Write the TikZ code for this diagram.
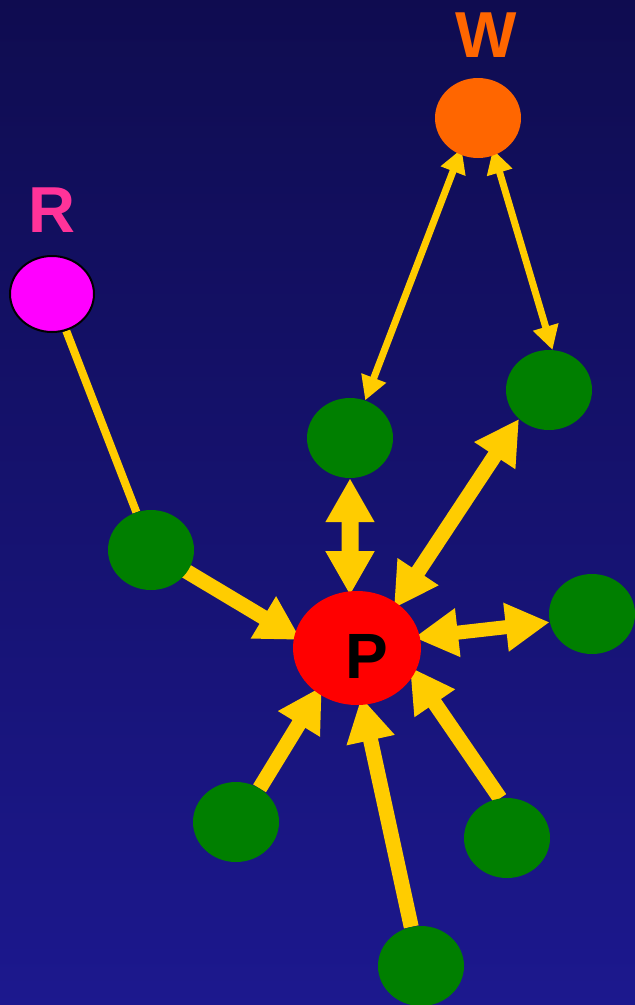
\documentclass[tikz,border=0pt]{standalone}
\usepackage{fontspec}
\setmainfont{Liberation Sans}
\usetikzlibrary{arrows.meta,shapes.geometric}
\definecolor{bgtop}{HTML}{0F0C50}
\definecolor{bgbot}{HTML}{1C188E}
\definecolor{arrowyellow}{HTML}{FFCC00}
\definecolor{nodegreen}{HTML}{007F00}
\definecolor{worange}{HTML}{FF6600}
\definecolor{rpink}{HTML}{FF3399}
\definecolor{rmagenta}{HTML}{FF00FF}
\pgfdeclarelayer{back}
\pgfdeclarelayer{conn}
\pgfsetlayers{back,conn,main}
\tikzset{
  bigtip/.tip={Triangle[width=46pt,length=44pt]},
  smalltip/.tip={Triangle[width=25pt,length=24pt]},
  blob/.style={ellipse, draw=none, minimum width=86pt, minimum height=80pt, inner sep=0pt, fill=nodegreen},
  bigline/.style={draw=arrowyellow, line width=15pt},
  thinline/.style={draw=arrowyellow, line width=7pt},
  lbl/.style={font=\bfseries\fontsize{65}{65}\selectfont, anchor=base, inner sep=0pt}
}
\begin{document}
\begin{tikzpicture}[x=1pt,y=-1pt]
\useasboundingbox (0,0) rectangle (635,1005);
\begin{pgfonlayer}{back}
\shade[top color=bgtop, bottom color=bgbot] (0,0) rectangle (635,1005);
\end{pgfonlayer}
% nodes
\node[ellipse, fill=worange, minimum width=86pt, minimum height=80pt, inner sep=0pt] (W) at (478,118) {};
\node[lbl, text=worange] (Wl) at (486,57) {W};
\node[ellipse, fill=rmagenta, draw=black, line width=2pt, minimum width=84pt, minimum height=76pt, inner sep=0pt] (R) at (52,294) {};
\node[lbl, text=rpink] (Rl) at (52,232) {R};
\node[blob] (G1) at (350,438) {};
\node[blob] (G2) at (549,390) {};
\node[blob] (G3) at (151,550) {};
\node[blob] (G4) at (592,614) {};
\node[blob] (G5) at (236,822) {};
\node[blob] (G6) at (507,838) {};
\node[blob] (G7) at (421,966) {};
\node[ellipse, fill=red, minimum width=128pt, minimum height=114pt, inner sep=0pt] (P) at (357,648) {};
\node[lbl, text=black, font=\bfseries\fontsize{64}{64}\selectfont] (Pl) at (367,678) {P};
% connectors
\begin{pgfonlayer}{conn}
\draw[draw=arrowyellow, line width=8pt] (R) -- (G3);
\draw[thinline, smalltip-smalltip, shorten <=-6pt] (W.243) -- (G1.68);
\draw[thinline, smalltip-smalltip, shorten <=-6pt] (W.294) -- (G2.85);
\draw[bigline, line width=17pt, bigtip-bigtip, shorten >=-4pt] (G1.south) -- (P.97);
\draw[bigline, bigtip-bigtip, shorten >=-6pt] (G2.224) -- (P.48);
\draw[bigline, line width=14pt, bigtip-bigtip, shorten <=-6pt] (P.10) -- (G4.191);
\draw[bigline, -bigtip, shorten >=-8pt, shorten <=-6pt] (G3.329) -- (P.169);
\draw[bigline, -bigtip, shorten >=-8pt] (G5.55) -- (P.229);
\draw[bigline, -bigtip, shorten >=-8pt] (G6.100) -- (P.336);
\draw[bigline, -bigtip, shorten >=-8pt] (G7.104) -- (P.276);
\end{pgfonlayer}
\end{tikzpicture}
\end{document}
